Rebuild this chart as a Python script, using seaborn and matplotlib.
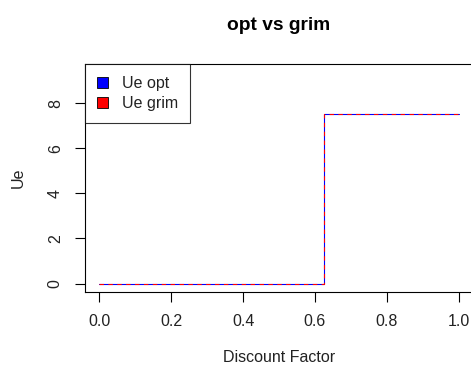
import matplotlib
matplotlib.use("Agg")
import matplotlib.pyplot as plt
import seaborn as sns
import pandas as pd
from matplotlib.patches import Patch

# Data (step function: discount factor vs Ue)
discount = [0.0, 0.625, 1.0]
ue_opt = [0.0, 7.5, 7.5]
ue_grim = [0.0, 7.5, 7.5]
series_labels = ["Ue opt", "Ue grim"]
xticks = [0.0, 0.2, 0.4, 0.6, 0.8, 1.0]
yticks = [0, 2, 4, 6, 8]

sns.set_theme(style="ticks")
plt.rcParams['font.family'] = ['Liberation Sans', 'DejaVu Sans']

fig = plt.figure(figsize=(4.71, 3.69), dpi=100)
ax = fig.add_axes([85/471, 1 - 292/369, 388/471, 228/369])

df = pd.DataFrame({"x": discount, "opt": ue_opt, "grim": ue_grim})
sns.lineplot(data=df, x="x", y="opt", color="blue", linewidth=0.8,
             drawstyle="steps-post", ax=ax)
sns.lineplot(data=df, x="x", y="grim", color="red", linewidth=0.8,
             linestyle=(0, (4, 4)), drawstyle="steps-post", ax=ax)

ax.set_xlim(-0.04, 1.04)
ax.set_ylim(-0.374, 9.73)
ax.set_xticks(xticks)
ax.set_xticklabels([f"{v:.1f}" for v in xticks])
ax.set_yticks(yticks)
ax.set_yticklabels([str(v) for v in yticks])
for lab in ax.get_yticklabels():
    lab.set_rotation(90)
    lab.set_va("center")

ax.tick_params(axis="both", length=7, width=0.8, color="black",
               labelsize=11.5, labelcolor="#222222", pad=9)
for sp in ax.spines.values():
    sp.set_visible(True)
    sp.set_color("black")
    sp.set_linewidth(0.8)

ax.set_xlabel("Discount Factor", fontsize=11.5, color="#222222")
ax.set_ylabel("Ue", fontsize=11.5, color="#222222")
ax.xaxis.set_label_coords(0.5, -0.255)
ax.yaxis.set_label_coords(-0.152, 0.5)

fig.text((85 + 473) / 2 / 471, 1 - 25 / 369, "opt vs grim", ha="center",
         va="center", fontsize=13.8, fontweight="bold", color="black")

handles = [Patch(facecolor="blue", edgecolor="black", linewidth=0.6),
           Patch(facecolor="red", edgecolor="black", linewidth=0.6)]
leg = ax.legend(handles, series_labels, loc="upper left", borderaxespad=0,
                fontsize=11.5, frameon=True, fancybox=False,
                handlelength=0.7, handleheight=0.7, handletextpad=0.85,
                labelspacing=0.32, borderpad=0.75)
leg.get_frame().set_edgecolor("black")
leg.get_frame().set_linewidth(0.8)
for t in leg.get_texts():
    t.set_color("#222222")

fig.savefig("out.png", dpi=100)
